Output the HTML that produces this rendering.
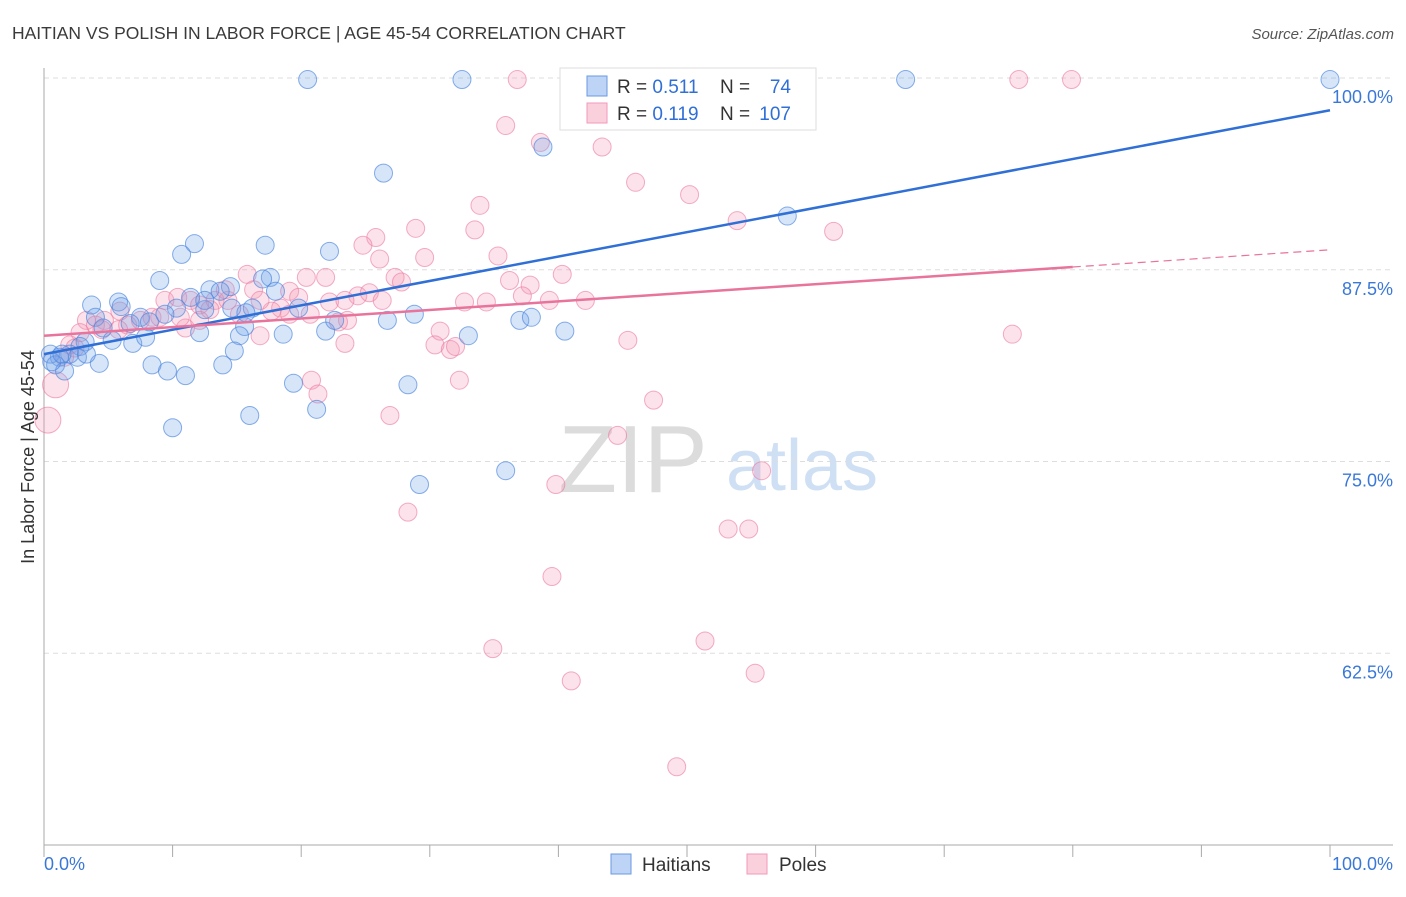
<!DOCTYPE html>
<html><head><meta charset="utf-8"><style>
body{margin:0;background:#fff;font-family:"Liberation Sans",sans-serif;}
svg text{font-family:"Liberation Sans",sans-serif;}
</style></head><body>
<svg id="chart" width="1406" height="892">
<text x="12" y="39" font-size="17.5" fill="#3a3a3a">HAITIAN VS POLISH IN LABOR FORCE | AGE 45-54 CORRELATION CHART</text>
<text x="1394" y="39" font-size="15" fill="#555" font-style="italic" text-anchor="end">Source: ZipAtlas.com</text>
<g>
<text x="633" y="492" font-size="96" fill="#dcdcdc" font-family="Liberation Serif,serif" text-anchor="middle">ZIP</text>
<text x="802" y="490" font-size="72" fill="#cfe0f5" text-anchor="middle">atlas</text>
</g>
<g id="grid"></g><g id="axes"></g><g id="pts"></g><g id="lines"></g>
<text transform="translate(34,457) rotate(-90)" font-size="18" fill="#333" text-anchor="middle">In Labor Force | Age 45-54</text>
<g>
<rect x="560" y="68" width="256" height="62" fill="#fff" stroke="#ddd"/>
<rect x="587" y="76" width="20" height="20" fill="rgba(110,160,235,0.45)" stroke="#6a9ae0"/>
<rect x="587" y="103" width="20" height="20" fill="rgba(245,150,180,0.45)" stroke="#f09ab8"/>
<text x="617" y="93" font-size="19" fill="#333">R = <tspan fill="#2f6fd6">0.511</tspan></text>
<text x="720" y="93" font-size="19" fill="#333">N =</text>
<text x="791" y="93" font-size="19" fill="#2f6fd6" text-anchor="end">74</text>
<text x="617" y="120" font-size="19" fill="#333">R = <tspan fill="#2f6fd6">0.119</tspan></text>
<text x="720" y="120" font-size="19" fill="#333">N =</text>
<text x="791" y="120" font-size="19" fill="#2f6fd6" text-anchor="end">107</text>
</g>
<g>
<rect x="611" y="854" width="20" height="20" fill="rgba(110,160,235,0.45)" stroke="#6a9ae0"/>
<text x="642" y="871" font-size="19" fill="#333">Haitians</text>
<rect x="747" y="854" width="20" height="20" fill="rgba(245,150,180,0.45)" stroke="#f09ab8"/>
<text x="779" y="871" font-size="19" fill="#333">Poles</text>
</g>
</svg>
<script>
const yTicks=[62.5,75,87.5,100];
const yTickLabels=["62.5%","75.0%","87.5%","100.0%"];
const xTicks=[0,10,20,30,40,50,60,70,80,90,100];
const blueX=[20.5,32.5,67.0,100,38.8,26.4,57.8,11.7,17.2,22.2,10.7,9.0,17.6,17.0,12.9,14.5,13.7,18.0,11.4,3.7,5.8,6.0,10.3,12.5,16.2,19.8,9.4,7.5,4.0,6.7,4.6,26.7,28.8,37.0,37.9,15.6,21.9,22.6,12.1,15.2,33.0,40.5,5.3,6.9,7.9,3.2,2.8,2.0,1.2,0.5,2.6,0.9,1.6,4.3,8.4,14.8,13.9,9.6,11.0,19.4,28.3,21.2,16.0,10.0,35.9,29.2,0.6,1.4,18.6,14.6,12.5,15.7,8.2,3.3];
const blueY=[99.9,99.9,99.9,99.9,95.5,93.8,91.0,89.2,89.1,88.7,88.5,86.8,87.0,86.9,86.2,86.4,86.1,86.1,85.7,85.2,85.4,85.1,85.0,84.9,85.0,85.0,84.6,84.4,84.4,84.0,83.7,84.2,84.6,84.2,84.4,83.8,83.5,84.2,83.4,83.2,83.2,83.5,82.9,82.7,83.1,82.8,82.5,82.0,81.8,82.0,81.8,81.3,80.9,81.4,81.3,82.2,81.3,80.9,80.6,80.1,80.0,78.4,78.0,77.2,74.4,73.5,81.5,82.0,83.3,85.0,85.5,84.7,84.1,82.0];
const pinkX=[36.8,75.8,79.9,41.7,43.2,35.9,38.6,43.4,46.0,50.2,33.9,53.9,61.4,28.9,33.5,25.8,24.8,29.6,35.3,15.8,20.4,21.9,27.3,27.8,40.3,36.2,37.8,16.3,19.1,19.8,22.2,24.4,25.3,26.3,32.7,34.4,37.2,42.1,9.4,10.4,11.4,12.1,13.3,14.3,18.4,15.2,17.7,19.1,23.6,22.9,5.9,4.7,3.3,4.0,6.5,7.5,8.4,9.0,11.0,2.8,2.0,1.6,2.4,4.5,16.8,23.4,30.8,30.4,31.6,32.0,45.4,75.3,20.8,21.3,32.3,26.9,47.4,44.6,55.8,39.8,28.3,53.2,54.8,39.5,34.9,51.4,41.0,55.3,49.2,0.9,0.3,12.9,14.1,5.8,12.1,16.8,20.7,26.1,39.3,23.4,10.6];
const pinkY=[99.9,99.9,99.9,98.8,99.9,96.9,95.8,95.5,93.2,92.4,91.7,90.7,90.0,90.2,90.1,89.6,89.1,88.3,88.4,87.2,87.0,87.0,87.0,86.7,87.2,86.8,86.5,86.2,86.1,85.7,85.4,85.8,86.0,85.5,85.4,85.4,85.8,85.5,85.5,85.7,85.5,85.2,85.5,85.5,85.0,84.6,84.8,84.6,84.2,84.1,84.8,84.2,84.2,83.9,83.9,84.2,84.4,84.4,83.7,83.4,82.6,81.8,82.4,83.6,83.2,82.7,83.5,82.6,82.3,82.5,82.9,83.3,80.3,79.4,80.3,78.0,79.0,76.7,74.4,73.5,71.7,70.6,70.6,67.5,62.8,63.3,60.7,61.2,55.1,80.0,77.7,84.9,86.2,83.6,84.2,85.5,84.6,88.2,85.5,85.5,84.4];
const pinkBig=[0.9,0.3];
const blueTrend=[82.0,97.9];
const pinkTrend=[83.2,88.8];
const pinkSolidEnd=80;

const X0=44,X1=1330,Y0=78,Y1=845,YMIN=50,YMAX=100;
const sx=v=>X0+(X1-X0)*v/100;
const sy=v=>Y1-(Y1-Y0)*(v-YMIN)/(YMAX-YMIN);
const NS="http://www.w3.org/2000/svg";
function mk(tag,attrs,parent){const e=document.createElementNS(NS,tag);for(const k in attrs)e.setAttribute(k,attrs[k]);parent.appendChild(e);return e;}
const grid=document.getElementById('grid'),axes=document.getElementById('axes'),pts=document.getElementById('pts'),lines=document.getElementById('lines');
yTicks.forEach((t,i)=>{
 const l=mk('line',{x1:X0,x2:1393,y1:sy(t),y2:sy(t),stroke:'#ddd','stroke-dasharray':'5,4'},grid);
 
 
 const tx=mk('text',{x:1393,y:sy(t)+25,'font-size':18,fill:'#3a78d8','text-anchor':'end'},axes);
 tx.textContent=yTickLabels[i];
 
 
});
const ya=mk('line',{x1:X0,x2:X0,y1:68,y2:Y1,stroke:'#aaa'},axes);


const xa=mk('line',{x1:X0,x2:1393,y1:Y1,y2:Y1,stroke:'#aaa'},axes);


xTicks.forEach(t=>{
 const l=mk('line',{x1:sx(t),x2:sx(t),y1:Y1,y2:Y1+12,stroke:'#aaa'},axes);
 
 
});
const xl0=mk('text',{x:X0,y:870,'font-size':18,fill:'#3a78d8'},axes);xl0.textContent='0.0%';


const xl1=mk('text',{x:1393,y:870,'font-size':18,fill:'#3a78d8','text-anchor':'end'},axes);xl1.textContent='100.0%';


pinkX.forEach((x,i)=>{
 const big=pinkBig.includes(x)&&pinkY[i]<81;
 const c=mk('circle',{cx:sx(x),cy:sy(pinkY[i]),r:big?13:9,fill:'rgba(245,150,180,0.28)',stroke:'rgba(235,120,160,0.6)','stroke-width':1},pts);
 
 
});
blueX.forEach((x,i)=>{
 const c=mk('circle',{cx:sx(x),cy:sy(blueY[i]),r:9,fill:'rgba(110,160,235,0.28)',stroke:'rgba(70,130,220,0.65)','stroke-width':1},pts);
 
 
});
const bl=mk('line',{x1:sx(0),y1:sy(blueTrend[0]),x2:sx(100),y2:sy(blueTrend[1]),stroke:'#2f6fd6','stroke-width':2.5},lines);


const pm=pinkTrend[0]+(pinkTrend[1]-pinkTrend[0])*pinkSolidEnd/100;
const pl=mk('line',{x1:sx(0),y1:sy(pinkTrend[0]),x2:sx(pinkSolidEnd),y2:sy(pm),stroke:'#e8739c','stroke-width':2.5},lines);


const pd=mk('line',{x1:sx(pinkSolidEnd),y1:sy(pm),x2:sx(100),y2:sy(pinkTrend[1]),stroke:'#e8739c','stroke-width':1.2,'stroke-dasharray':'8,5'},lines);


</script>
</body></html>
